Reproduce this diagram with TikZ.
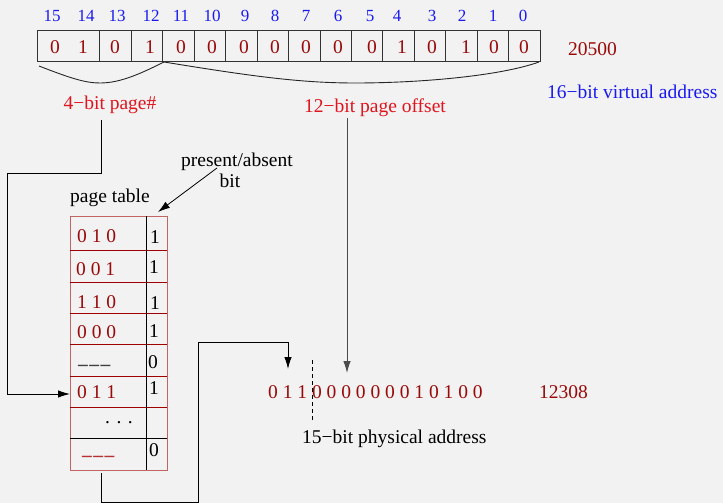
\documentclass[tikz,border=0pt]{standalone}
\usepackage{fontspec}
\setmainfont{Liberation Serif}
\usetikzlibrary{arrows.meta}
\definecolor{bg}{HTML}{F2F2F2}
\definecolor{bitblue}{HTML}{1A1AF0}
\definecolor{val}{HTML}{9A0A0A}
\definecolor{lbl}{HTML}{E0141E}
\definecolor{tabedge}{HTML}{C06464}
\definecolor{tabsep}{HTML}{A00000}
\definecolor{dashgray}{HTML}{404040}
\definecolor{dashred}{HTML}{B83030}
\newcommand{\blankentry}{\bfseries –\hspace{1.5pt}–\hspace{1.5pt}–}

\begin{document}
\begin{tikzpicture}[x=1pt,y=-1pt,
  txt/.style={inner sep=0pt, anchor=base, font=\fontsize{19.5}{23}\selectfont},
  bitno/.style={txt, text=bitblue, font=\fontsize{17}{20}\selectfont},
  regval/.style={txt, text=val},
  label/.style={txt, text=lbl},
  rowval/.style={txt, text=val, anchor=base west},
  flag/.style={txt, text=black},
  wire/.style={line width=0.9pt, black},
  tip/.style={-{Latex[length=12pt,width=7.5pt]}},
  brace/.style={line width=0.9pt, black!85},
]
% background and page size
\fill[bg] (0,0) rectangle (723,503);
\useasboundingbox (0,0) rectangle (723,503);

% ---- 16-bit virtual address register ----
\node[draw=black!80, line width=0.9pt, inner sep=0pt, anchor=north west,
      minimum width=503pt, minimum height=31pt] (reg) at (37,30) {};
\foreach \k in {2,...,15}
  \draw[black!80, line width=0.9pt] ({37+\k*31.44},30) -- ({37+\k*31.44},61);

% bit numbers
\foreach \x/\n [count=\c] in {52/15,86/14,117/13,151/12,181/11,212/10,245/9,275/8,
                              306/7,338/6,370/5,397/4,432/3,462/2,493/1,523/0}
  \node[bitno] (n\c) at (\x,21.5) {\n};

% bit values
\foreach \x/\v [count=\c] in {55/0,83/1,115/0,150/1,181/0,212/0,244/0,275/0,
                              306/0,338/0,372/0,402/1,432/0,466/1,494/0,524/0}
  \node[regval] (v\c) at (\x,54) {\v};

\node[txt, text=val, anchor=base west] (dec) at (568,56) {20500};
\node[txt, text=bitblue, anchor=base west] (vlabel) at (547,99) {16−bit virtual address};

% field braces
\draw[brace] (39,66) .. controls (70,78) and (85,83) .. (100,83)
             .. controls (120,83) and (140,74) .. (164,62);
\draw[brace] (164,62) .. controls (250,76) and (300,83) .. (355,83)
             .. controls (420,83) and (500,76) .. (539,62);

\node[label] (pnum) at (110,110) {4−bit page\#};
\node[label] (off) at (375,113) {12−bit page offset};

% ---- page table ----
\node[txt, anchor=base] (ptitle) at (110,202) {page table};
\node[draw=tabedge, line width=0.9pt, inner sep=0pt, anchor=north west,
      minimum width=97pt, minimum height=254pt] (tab) at (70,216) {};
\foreach \y in {250,282,313,344,376,407}
  \draw[tabsep, line width=0.9pt] (70,\y) -- (167,\y);
\draw[black, line width=0.9pt] (70,438) -- (167,438);
\draw[black, line width=0.9pt] (146,216) -- (146,470);

\node[rowval] (e1) at (77,242) {0 1 0};
\node[rowval] (e2) at (76,275) {0 0 1};
\node[rowval] (e3) at (77,308) {1 1 0};
\node[rowval] (e4) at (77,338) {0 0 0};
\node[txt, text=dashgray, anchor=base west] (e5) at (78,370) {\blankentry};
\node[rowval] (e6) at (77,398) {0 1 1};
\node[txt, text=black, anchor=base west] (e7) at (105,423) {. . .};
\node[txt, text=dashred, anchor=base west] (e8) at (82,461) {\blankentry};

\node[flag] (f1) at (155,243) {1};
\node[flag] (f2) at (154,273) {1};
\node[flag] (f3) at (155,309) {1};
\node[flag] (f4) at (154,337) {1};
\node[flag] (f5) at (153,368) {0};
\node[flag] (f6) at (154,394) {1};
\node[flag] (f8) at (154,456) {0};

\node[txt] (pa1) at (237,166) {present/absent};
\node[txt] (pa2) at (230,187) {bit};

% ---- physical address ----
\node[regval, anchor=base west] (phys) at (268,398) {0 1 1 0 0 0 0 0 0 0 1 0 1 0 0};
\node[txt, text=val, anchor=base west] (pdec) at (539,398) {12308};
\node[txt, anchor=base west] (plabel) at (302,443) {15−bit physical address};
\draw[black, line width=0.8pt, dash pattern=on 4pt off 3pt] (312,360) -- (312,420);

% ---- connectors ----
\coordinate (pg0) at (101,120);
\coordinate (row6) at (70,394);
\draw[wire, tip] (pg0) -- (101,173) -- (7,173) -- (7,394) -- (row6);

\coordinate (of0) at (347,118);
\coordinate (of1) at (347,373);
\draw[wire, black!70, tip] (of0) -- (of1);

\coordinate (fr0) at (101,473);
\coordinate (fr1) at (288,369);
\draw[wire, tip] (fr0) -- (101,502) -- (198,502) -- (198,342) -- (288,342) -- (fr1);

\coordinate (pb0) at (217,168);
\coordinate (pb1) at (158,212);
\draw[line width=0.8pt, tip] (pb0) -- (pb1);
\end{tikzpicture}
\end{document}
